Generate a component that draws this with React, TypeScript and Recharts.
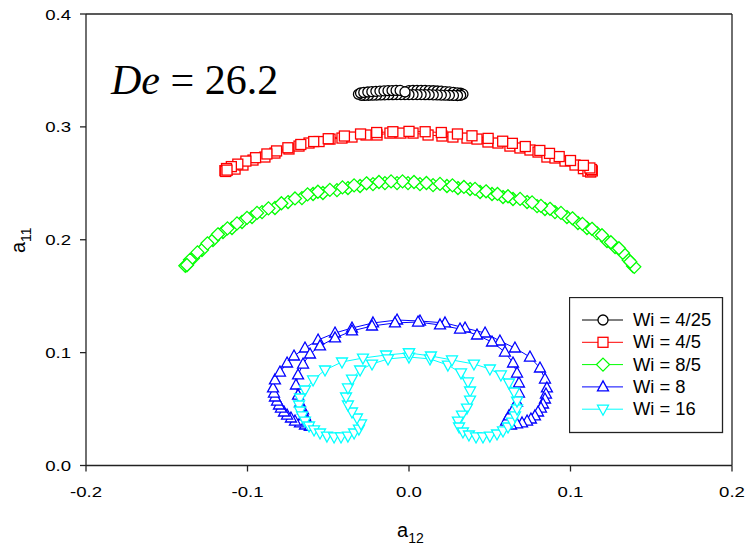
import React from 'react';
import { ScatterChart, Scatter, XAxis, YAxis, Legend } from 'recharts';

// axis ticks
const xMajor = [-0.2, -0.1, 0, 0.1, 0.2];
const xMinor = [-0.18, -0.16, -0.14, -0.12, -0.08, -0.06, -0.04, -0.02, 0.02, 0.04, 0.06, 0.08, 0.12, 0.14, 0.16, 0.18];
const yMajor = [0, 0.1, 0.2, 0.3, 0.4];
const yMinor = [0.02, 0.04, 0.06, 0.08, 0.12, 0.14, 0.16, 0.18, 0.22, 0.24, 0.26, 0.28, 0.32, 0.34, 0.36, 0.38];

const seriesNames = ['Wi = 4/25', 'Wi = 4/5', 'Wi = 8/5', 'Wi = 8', 'Wi = 16'];
const seriesColors = ['#000000', '#ff0000', '#00ff00', '#0000ff', '#00ffff'];

// Wi = 4/25 (a12, a11)
const wi4_25A12 = [-0.0025, 0.0, 0.0025, 0.005, 0.0075, 0.01, 0.0125, 0.015, 0.0175, 0.02, 0.0225, 0.025, 0.0275, 0.03, 0.032, 0.0334,
  0.032, 0.03, 0.0275, 0.025, 0.0225, 0.02, 0.0175, 0.015, 0.0125, 0.01, 0.0075, 0.005, 0.0025, 0.0, -0.0025, -0.005, -0.0075, -0.01,
  -0.0125, -0.015, -0.0175, -0.02, -0.0225, -0.025, -0.0275, -0.0295, -0.0313,
  -0.03, -0.028, -0.0255, -0.023, -0.0205, -0.018, -0.0155, -0.013, -0.0105, -0.008, -0.0055, -0.0025];
const wi4_25A11 = [0.331, 0.3322, 0.3324, 0.3324, 0.3324, 0.3323, 0.3322, 0.332, 0.3318, 0.3316, 0.3313, 0.331, 0.3306, 0.3302, 0.3298, 0.329,
  0.328, 0.3278, 0.3279, 0.328, 0.3281, 0.3282, 0.3283, 0.3284, 0.3285, 0.3285, 0.3286, 0.3286, 0.3286, 0.3286, 0.3286, 0.3286, 0.3286, 0.3285,
  0.3285, 0.3284, 0.3283, 0.3282, 0.3281, 0.328, 0.3279, 0.328, 0.329,
  0.33, 0.3305, 0.3309, 0.3312, 0.3315, 0.3317, 0.3319, 0.3321, 0.3322, 0.3323, 0.3323, 0.331];

// Wi = 4/5
const wi4_5A12 = [-0.1127, -0.1077, -0.1028, -0.0966, -0.0892, -0.083, -0.0743, -0.0681, -0.0619, -0.0557, -0.0489, -0.0415, -0.0353,
  -0.0266, -0.0198, -0.0118, -0.005, 0.0025, 0.0118, 0.0204, 0.0272, 0.0359, 0.0421, 0.0489, 0.0551, 0.0625, 0.0687, 0.0749, 0.0799,
  0.0854, 0.0904, 0.0966, 0.1028, 0.108, 0.1108, 0.1125, 0.1135, 0.113, 0.112, 0.108, 0.1, 0.093, 0.087, 0.081, 0.072, 0.064, 0.058,
  0.049, 0.039, 0.03, 0.02, 0.01, 0.0, -0.01, -0.02, -0.03, -0.04, -0.05, -0.059, -0.067, -0.075, -0.082, -0.088, -0.095, -0.101,
  -0.106, -0.11, -0.113, -0.114, -0.1135, -0.1127];
const wi4_5A11 = [0.2617, 0.2626, 0.2662, 0.2706, 0.2733, 0.2768, 0.2804, 0.283, 0.2857, 0.287, 0.2892, 0.2901, 0.291, 0.2928, 0.2928,
  0.2945, 0.2945, 0.2945, 0.2928, 0.2919, 0.291, 0.2901, 0.2892, 0.2866, 0.2857, 0.283, 0.2813, 0.2795, 0.2777, 0.2733, 0.2724, 0.2697,
  0.2662, 0.263, 0.2608, 0.26, 0.261, 0.2622, 0.2636, 0.2659, 0.2702, 0.2737, 0.2765, 0.2791, 0.2826, 0.2854, 0.2873, 0.2898, 0.2921,
  0.2937, 0.295, 0.2957, 0.296, 0.2957, 0.295, 0.2937, 0.2919, 0.2895, 0.287, 0.2844, 0.2815, 0.2787, 0.276, 0.2727, 0.2697, 0.267,
  0.2648, 0.2631, 0.2612, 0.2605, 0.2617];

// Wi = 8/5
const wi8_5A12 = [-0.1375, -0.1337, -0.1282, -0.1214, -0.1152, -0.1096, -0.1034, -0.0972, -0.091, -0.083, -0.0749, -0.0663, -0.0594,
  -0.0533, -0.0446, -0.0378, -0.0303, -0.0223, -0.0149, -0.0074, -0.0006, 0.0068, 0.0149, 0.0235, 0.0303, 0.0378, 0.044, 0.0514, 0.0582,
  0.0644, 0.0731, 0.0793, 0.0842, 0.0904, 0.0978, 0.1046, 0.1102, 0.1164, 0.1226, 0.1276, 0.1325, 0.136, 0.1387, 0.1395,
  0.137, 0.13, 0.125, 0.1195, 0.1133, 0.1074, 0.1012, 0.0941, 0.0873, 0.0817, 0.0762, 0.0688, 0.0613, 0.0548, 0.0477, 0.0409, 0.034,
  0.0269, 0.0192, 0.0108, 0.0031, -0.004, -0.0111, -0.0186, -0.0263, -0.034, -0.0412, -0.049, -0.0564, -0.0628, -0.0706, -0.079,
  -0.087, -0.0941, -0.1003, -0.1065, -0.1124, -0.1183, -0.1248, -0.131, -0.1356, -0.1385, -0.1375];
const wi8_5A11 = [0.1776, 0.1838, 0.1909, 0.1998, 0.2068, 0.2104, 0.2157, 0.2201, 0.2245, 0.2281, 0.2334, 0.2369, 0.2405, 0.2414,
  0.244, 0.2458, 0.2476, 0.2493, 0.2502, 0.2502, 0.2502, 0.2493, 0.2484, 0.2476, 0.2458, 0.2449, 0.2423, 0.2405, 0.2378, 0.2361, 0.2334,
  0.2298, 0.2272, 0.2245, 0.2201, 0.2148, 0.2104, 0.2059, 0.1989, 0.1936, 0.1882, 0.182, 0.1767, 0.176,
  0.1805, 0.1925, 0.1978, 0.204, 0.2097, 0.2141, 0.219, 0.2238, 0.2274, 0.23, 0.2331, 0.2362, 0.2385, 0.2406, 0.2429, 0.2451, 0.2468,
  0.2482, 0.2495, 0.2503, 0.2512, 0.2517, 0.2517, 0.2512, 0.25, 0.2482, 0.2464, 0.2442, 0.2425, 0.2402, 0.2366, 0.2323, 0.2278, 0.2238,
  0.2194, 0.2145, 0.2101, 0.2048, 0.1968, 0.1888, 0.1822, 0.177, 0.1776];

// Wi = 8
const wi8A12 = [-0.0613, -0.0644, -0.0675, -0.0706, -0.0731, -0.0755, -0.0774, -0.0793, -0.0805, -0.0817, -0.083, -0.0836, -0.0842,
  -0.083, -0.0799, -0.0755, -0.0712, -0.0644, -0.0563, -0.0458, -0.0353, -0.0223, -0.0074, 0.0068, 0.0223, 0.0347, 0.0471, 0.0563,
  0.0656, 0.0749, 0.0811, 0.0842, 0.0854, 0.0848, 0.0842, 0.083, 0.0817, 0.0799, 0.078, 0.0755, 0.0731, 0.07, 0.0669, 0.0632, 0.0601,
  0.0619, 0.0644, 0.0669, 0.0681, 0.0681, 0.0669, 0.0644, 0.0594, 0.0514, 0.0421, 0.0316, 0.0192, 0.0056, -0.0087, -0.0229, -0.0353,
  -0.0458, -0.0551, -0.0613, -0.0656, -0.0687, -0.07, -0.0687, -0.0675, -0.0656, -0.0644, -0.0632, -0.0613];
const wi8A11 = [0.035, 0.0359, 0.0377, 0.0394, 0.0421, 0.0447, 0.0474, 0.0509, 0.0536, 0.0571, 0.0607, 0.0642, 0.0687, 0.0758, 0.0828,
  0.0908, 0.097, 0.1041, 0.1112, 0.1174, 0.1218, 0.1263, 0.1289, 0.128, 0.1263, 0.1218, 0.1174, 0.1103, 0.1041, 0.0961, 0.0864, 0.0766,
  0.0687, 0.0633, 0.0589, 0.0545, 0.0509, 0.0474, 0.0439, 0.0412, 0.0394, 0.0377, 0.0368, 0.0359, 0.0394, 0.0439, 0.0492, 0.0562, 0.0642,
  0.0731, 0.0819, 0.0908, 0.1005, 0.1094, 0.1156, 0.1209, 0.1245, 0.1271, 0.1263, 0.1236, 0.1192, 0.113, 0.1059, 0.0988, 0.0899, 0.0802,
  0.0713, 0.0624, 0.0554, 0.0492, 0.0439, 0.0394, 0.035];

// Wi = 16
const wi16A12 = [0.0, -0.0142, -0.0285, -0.0415, -0.052, -0.0594, -0.0644, -0.0675, -0.0681, -0.0675, -0.0662, -0.0644, -0.0619,
  -0.0588, -0.0551, -0.0508, -0.0464, -0.0421, -0.0378, -0.034, -0.031, -0.0297, -0.0322, -0.0353, -0.0378, -0.039, -0.0378, -0.0353,
  -0.0303, -0.0229, -0.013, 0.0, 0.013, 0.0241, 0.0322, 0.0365, 0.0378, 0.0378, 0.0359, 0.0328, 0.0303, 0.031, 0.0334, 0.0371, 0.0415,
  0.0458, 0.0501, 0.0545, 0.0582, 0.0613, 0.0638, 0.0656, 0.0669, 0.0669, 0.065, 0.0619, 0.0569, 0.0501, 0.0402, 0.0266, 0.0136, 0.0];
const wi16A11 = [0.0997, 0.0979, 0.0952, 0.0917, 0.0846, 0.0758, 0.0669, 0.0598, 0.0536, 0.0483, 0.0439, 0.0394, 0.035, 0.0315,
  0.0288, 0.0261, 0.0253, 0.0253, 0.0261, 0.0288, 0.0323, 0.0368, 0.0421, 0.0474, 0.0536, 0.0607, 0.0687, 0.0766, 0.0846, 0.0899,
  0.0944, 0.0961, 0.0944, 0.089, 0.082, 0.074, 0.066, 0.058, 0.0509, 0.0447, 0.0394, 0.0341, 0.0297, 0.027, 0.0253, 0.0253, 0.0261,
  0.0279, 0.0306, 0.0341, 0.0385, 0.0439, 0.0501, 0.0571, 0.0651, 0.0731, 0.0802, 0.0855, 0.0899, 0.0935, 0.097, 0.0997];

const toPoints = (a12: number[], a11: number[]) =>
  a12.slice(0, Math.min(a12.length, a11.length)).map((x, i) => ({ x, y: a11[i] }));

type Kind = 'circle' | 'square' | 'diamond' | 'triUp' | 'triDown';

const series: { name: string; color: string; kind: Kind; data: { x: number; y: number }[] }[] = [
  { name: seriesNames[0], color: seriesColors[0], kind: 'circle', data: toPoints(wi4_25A12, wi4_25A11) },
  { name: seriesNames[1], color: seriesColors[1], kind: 'square', data: toPoints(wi4_5A12, wi4_5A11) },
  { name: seriesNames[2], color: seriesColors[2], kind: 'diamond', data: toPoints(wi8_5A12, wi8_5A11) },
  { name: seriesNames[3], color: seriesColors[3], kind: 'triUp', data: toPoints(wi8A12, wi8A11) },
  { name: seriesNames[4], color: seriesColors[4], kind: 'triDown', data: toPoints(wi16A12, wi16A11) },
];

const AXIS = '#222';
const FONT = '"Liberation Sans", Arial, sans-serif';

function Marker({ kind, cx, cy, color }: { kind: Kind; cx: number; cy: number; color: string }) {
  const common = { fill: '#fff', stroke: color, strokeWidth: 1.3 };
  if (kind === 'circle') return <circle cx={cx} cy={cy} r={5} {...common} />;
  if (kind === 'square') return <rect x={cx - 5} y={cy - 5} width={10} height={10} {...common} />;
  if (kind === 'diamond')
    return <polygon points={`${cx},${cy - 6.5} ${cx + 6.5},${cy} ${cx},${cy + 6.5} ${cx - 6.5},${cy}`} {...common} />;
  if (kind === 'triUp')
    return <polygon points={`${cx},${cy - 6} ${cx + 5.5},${cy + 4} ${cx - 5.5},${cy + 4}`} {...common} />;
  return <polygon points={`${cx},${cy + 6} ${cx + 5.5},${cy - 4} ${cx - 5.5},${cy - 4}`} {...common} />;
}

const fmt = (v: number) => (Math.abs(v) < 1e-9 ? 0 : v).toFixed(1);

const XTick = ({ x, y, payload }: any) => (
  <text transform={`translate(${x},${y + 23}) scale(1.2,1)`} textAnchor="middle" fontSize={15.5} fill="#000" fontFamily={FONT}>
    {fmt(payload.value)}
  </text>
);

const YTick = ({ x, y, payload }: any) => (
  <text transform={`translate(${x},${y}) scale(1.2,1)`} textAnchor="end" dy="0.36em" fontSize={15.5} fill="#000" fontFamily={FONT}>
    {fmt(payload.value)}
  </text>
);

const renderLegend = () => (
  <svg width={155} height={137} style={{ display: 'block' }}>
    <rect x={0.5} y={0.5} width={153} height={135} fill="#fff" stroke={AXIS} strokeWidth={1.3} />
    {series.map((s, i) => {
      const cy = 23 + i * 22.3;
      return (
        <g key={s.name}>
          <line x1={13} x2={54} y1={cy} y2={cy} stroke={s.color} strokeWidth={1} />
          <Marker kind={s.kind} cx={34} cy={cy} color={s.color} />
          <text transform={`translate(64,${cy + 6}) scale(1.05,1)`} fontSize={17.5} fill="#000" fontFamily={FONT}>{s.name}</text>
        </g>
      );
    })}
  </svg>
);

export default function App() {
  return (
    <div style={{ position: 'absolute', left: 0, top: 0, width: 745, height: 549, background: '#fff' }}>
      <ScatterChart width={745} height={549} margin={{ top: 14, right: 13, bottom: 53.5, left: 26 }}>
        <XAxis type="number" dataKey="x" domain={[-0.2, 0.2]} ticks={xMajor} interval={0} allowDataOverflow
          height={30} tickSize={6} tickMargin={2} stroke={AXIS} strokeWidth={1.3} tick={<XTick />} />
        <XAxis xAxisId="bm" type="number" dataKey="x" orientation="bottom" mirror domain={[-0.2, 0.2]} ticks={xMinor}
          interval={0} allowDataOverflow tick={false} tickSize={5} axisLine={false} stroke={AXIS} strokeWidth={1.3} />
        <XAxis xAxisId="top" type="number" dataKey="x" orientation="top" mirror domain={[-0.2, 0.2]} ticks={xMinor}
          interval={0} allowDataOverflow tick={false} tickSize={5} stroke={AXIS} strokeWidth={1.3} />
        <YAxis type="number" dataKey="y" domain={[0, 0.4]} ticks={yMajor} interval={0} allowDataOverflow
          width={60} tickSize={6} tickMargin={9} stroke={AXIS} strokeWidth={1.3} tick={<YTick />} />
        <YAxis yAxisId="lm" type="number" dataKey="y" orientation="left" mirror domain={[0, 0.4]} ticks={yMinor}
          interval={0} allowDataOverflow tick={false} tickSize={5} axisLine={false} stroke={AXIS} strokeWidth={1.3} />
        <YAxis yAxisId="right" type="number" dataKey="y" orientation="right" mirror domain={[0, 0.4]} ticks={yMinor}
          interval={0} allowDataOverflow tick={false} tickSize={5} stroke={AXIS} strokeWidth={1.3} />
        {series.map((s) => (
          <Scatter
            key={s.name}
            name={s.name}
            data={s.data}
            line={{ stroke: s.color, strokeWidth: 1 }}
            shape={(p: any) => <Marker kind={s.kind} cx={p.cx} cy={p.cy} color={s.color} />}
            isAnimationActive={false}
          />
        ))}
        <Legend layout="vertical" align="center" verticalAlign="middle" content={renderLegend}
          wrapperStyle={{ left: 569, top: 297, width: 155, height: 137 }} />
      </ScatterChart>
      <svg width={745} height={549} style={{ position: 'absolute', left: 0, top: 0, pointerEvents: 'none' }}>
        <text x={111} y={93.5} fontSize={42} fill="#000" fontFamily='"Liberation Serif", "Times New Roman", serif'>
          <tspan fontStyle="italic">De</tspan> = 26.2
        </text>
        <text x={397} y={537} fontSize={20} fill="#000" fontFamily={FONT}>
          a<tspan fontSize={14} dy={6}>12</tspan>
        </text>
        <text transform="translate(25,253) rotate(-90)" fontSize={20} fill="#000" fontFamily={FONT}>
          a<tspan fontSize={14} dy={6}>11</tspan>
        </text>
      </svg>
    </div>
  );
}
